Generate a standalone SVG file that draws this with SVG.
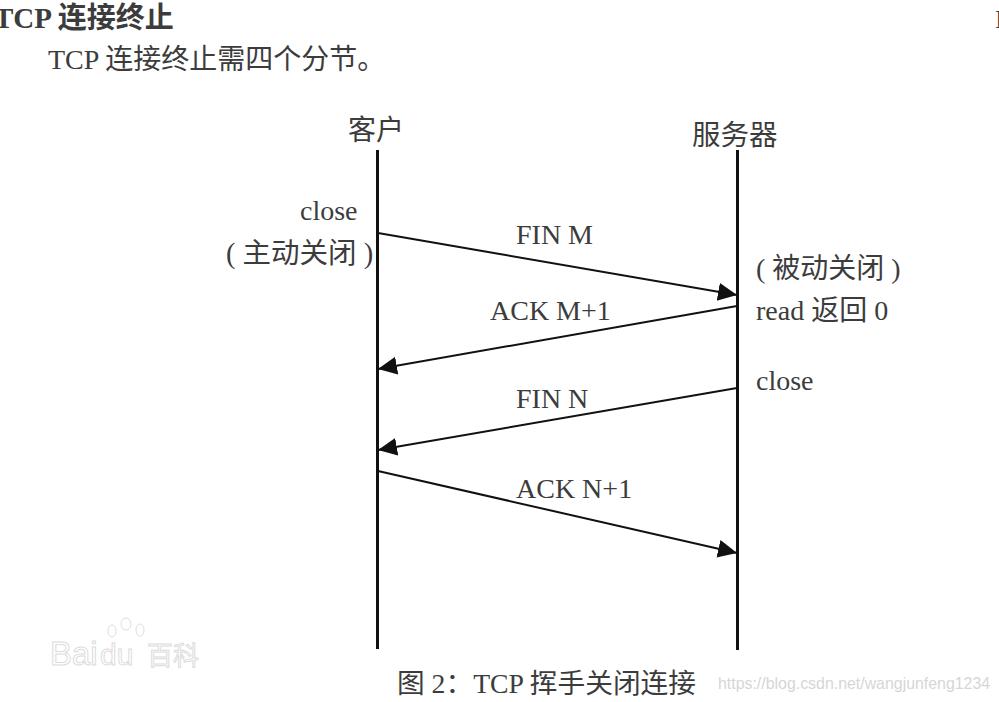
<svg xmlns="http://www.w3.org/2000/svg" width="999" height="702" viewBox="0 0 999 702">
<style>
text{font-family:"Liberation Serif","Noto Sans CJK SC",serif;fill:#3c3c3c;font-size:28px}
.life{stroke:#111;stroke-width:3;fill:none}
.a{stroke:#111;stroke-width:2;fill:none;marker-end:url(#ah)}
.wm{fill:#fff;stroke:#dcdcdc;stroke-width:1}
</style>
<defs><marker id="ah" markerUnits="userSpaceOnUse" markerWidth="22" markerHeight="20" refX="19" refY="9" orient="auto"><path d="M0 0L19 9L0 18Z" fill="#111"/></marker></defs>
<rect width="999" height="702" fill="#fff"/>
<g id="heading">
<text x="-6" y="28" style="font-weight:700;font-size:29px">TCP 连接终止</text>
<text x="48" y="69">TCP 连接终止需四个分节。</text>
<text x="995" y="28" style="font-size:26px">I</text>
</g>
<g id="connectors">
<path class="a" d="M378 233L737 295"/>
<path class="a" d="M737 306L378 369"/>
<path class="a" d="M737 388L378 450"/>
<path class="a" d="M378 471L737 553"/>
</g>
<g id="client">
<text x="348" y="140">客户</text>
<path class="life" d="M377.500 150V649"/>
<text x="300" y="220">close</text>
<text x="226" y="263" style="font-size:28.500px">( 主动关闭 )</text>
</g>
<g id="server">
<text x="692" y="145" style="font-size:28.500px">服务器</text>
<path class="life" d="M737.500 150V650"/>
<text x="756" y="278">( 被动关闭 )</text>
<text x="756" y="320">read 返回 0</text>
<text x="756" y="390">close</text>
</g>
<g id="labels">
<text x="516" y="244">FIN M</text>
<text x="490" y="320">ACK M+1</text>
<text x="516" y="408">FIN N</text>
<text x="516" y="498">ACK N+1</text>
</g>
<g id="caption">
<text x="397" y="693" style="font-size:27.700px">图 2：TCP 挥手关闭连接</text>
</g>
<g id="watermarks">
<ellipse class="wm" cx="112" cy="631" rx="4" ry="6"/>
<ellipse class="wm" cx="126" cy="624" rx="5" ry="6"/>
<ellipse class="wm" cx="140" cy="630" rx="4" ry="6"/>
<text class="wm" x="50" y="665" style="font-family:'Liberation Sans',sans-serif;font-size:33px">Bai</text>
<text class="wm" x="100" y="665" style="font-family:'Liberation Sans',sans-serif;font-size:30px">du</text>
<text class="wm" x="147" y="665" style="font-family:'Noto Sans CJK SC',sans-serif;font-size:26px">百科</text>
<text x="718" y="689" style="font-family:'Liberation Sans',sans-serif;font-size:15.900px;fill:#d6d6d6">https://blog.csdn.net/wangjunfeng1234</text>
</g>
</svg>
